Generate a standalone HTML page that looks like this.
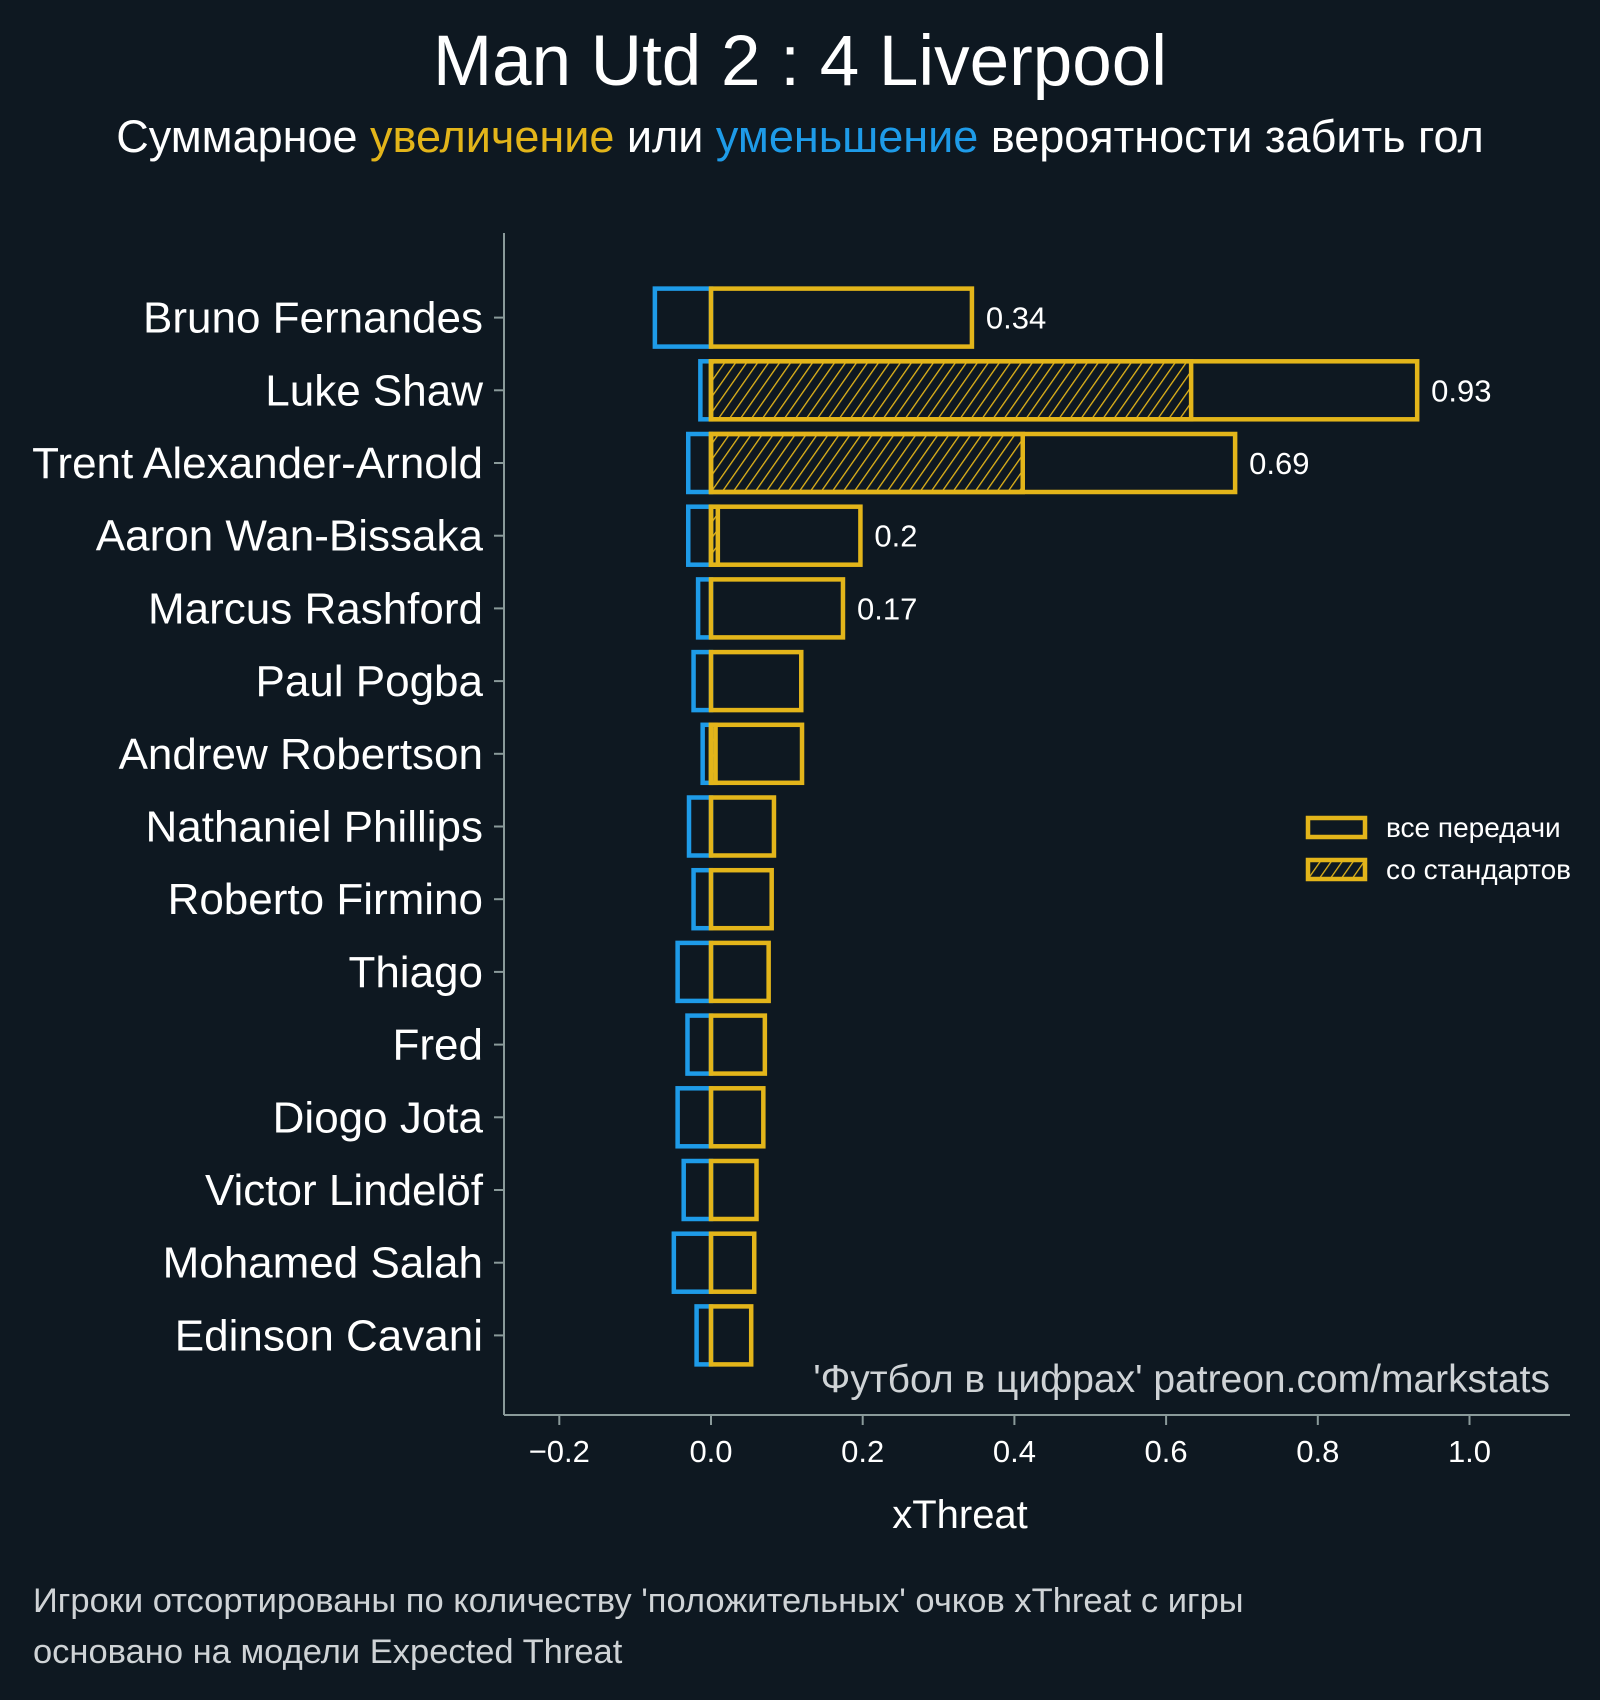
<!DOCTYPE html>
<html><head><meta charset="utf-8">
<style>
html,body{margin:0;padding:0;background:#0e1821;}
svg{display:block;font-family:"Liberation Sans","DejaVu Sans",sans-serif;}
</style></head>
<body>
<svg id="chart" width="1600" height="1700" viewBox="0 0 1600 1700" xmlns="http://www.w3.org/2000/svg">
<defs>
<pattern id="hatch" patternUnits="userSpaceOnUse" width="9" height="9" patternTransform="rotate(35)">
<line x1="0" y1="0" x2="0" y2="9" stroke="#e3b51a" stroke-width="2.6"/>
</pattern>
</defs>
<rect x="0" y="0" width="1600" height="1700" fill="#0e1821"/>
<text x="800" y="85" text-anchor="middle" fill="#ffffff" font-size="71">Man Utd 2 : 4 Liverpool</text>
<text x="800" y="152" text-anchor="middle" fill="#ffffff" font-size="45">Суммарное <tspan fill="#e3b51a">увеличение</tspan> или <tspan fill="#1e9be8">уменьшение</tspan> вероятности забить гол</text>
<g id="plot"></g>
<line x1="504" y1="233" x2="504" y2="1415" stroke="#8a9a9a" stroke-width="2"/>
<line x1="504" y1="1415" x2="1570" y2="1415" stroke="#8a9a9a" stroke-width="2"/>
<text x="960" y="1528" text-anchor="middle" fill="#ffffff" font-size="40">xThreat</text>
<text x="1550" y="1392" text-anchor="end" fill="#cfd3d6" font-size="39">'Футбол в цифрах' patreon.com/markstats</text>
<text x="33" y="1612" fill="#cfd3d6" font-size="34.5">Игроки отсортированы по количеству 'положительных' очков xThreat с игры</text>
<text x="33" y="1663" fill="#cfd3d6" font-size="34.5">основано на модели Expected Threat</text>
<g>
<rect x="1308" y="818" width="57" height="19" fill="none" stroke="#e3b51a" stroke-width="4.5"/>
<text x="1386" y="837" fill="#ffffff" font-size="28">все передачи</text>
<rect x="1308" y="860" width="57" height="19" fill="url(#hatch)" stroke="#e3b51a" stroke-width="4.5"/>
<text x="1386" y="879" fill="#ffffff" font-size="28">со стандартов</text>
</g>
</svg>
<script>
const players = ["Bruno Fernandes","Luke Shaw","Trent Alexander-Arnold","Aaron Wan-Bissaka","Marcus Rashford","Paul Pogba","Andrew Robertson","Nathaniel Phillips","Roberto Firmino","Thiago","Fred","Diogo Jota","Victor Lindelöf","Mohamed Salah","Edinson Cavani"];
const positiveValues = [0.344,0.931,0.691,0.197,0.174,0.119,0.120,0.083,0.080,0.076,0.071,0.069,0.060,0.057,0.053];
const negativeValues = [-0.074,-0.014,-0.030,-0.030,-0.017,-0.023,-0.011,-0.029,-0.023,-0.044,-0.031,-0.044,-0.036,-0.049,-0.019];
const setPieceValues = [0,0.633,0.411,0.009,0,0,0.006,0,0,0,0,0,0,0,0];
const valueLabels = ["0.34","0.93","0.69","0.2","0.17","","","","","","","","","",""];
const xTicks = [-0.2,0,0.2,0.4,0.6,0.8,1.0];
const xTickLabels = ["\u22120.2","0.0","0.2","0.4","0.6","0.8","1.0"];

const NS = "http://www.w3.org/2000/svg";
const X0 = 711, PXU = 758.5;
const xScale = v => X0 + v * PXU;
const ROW0 = 317.6, STEP = 72.7, BARH = 58;
const yScale = i => ROW0 + i * STEP;
const plot = document.getElementById('plot');
const YEL = "#e3b51a", BLU = "#1e9be8";
const AXY = 1415;

function mk(tag, attrs, parent) {
  const el = document.createElementNS(NS, tag);
  for (const k in attrs) el.setAttribute(k, attrs[k]);
  parent.appendChild(el);
  return el;
}

players.forEach((p, i) => {
  const cy = yScale(i), top = cy - BARH / 2;
  const nb = mk('rect', {x: xScale(negativeValues[i]), y: top, width: xScale(0) - xScale(negativeValues[i]), height: BARH, fill: 'none', stroke: BLU, 'stroke-width': 4.5}, plot);
  
  
  if (setPieceValues[i] > 0) {
    const sb = mk('rect', {x: xScale(0), y: top, width: xScale(setPieceValues[i]) - xScale(0), height: BARH, fill: 'url(#hatch)', stroke: YEL, 'stroke-width': 4.5}, plot);
    
    
  }
  const pb = mk('rect', {x: xScale(0), y: top, width: xScale(positiveValues[i]) - xScale(0), height: BARH, fill: 'none', stroke: YEL, 'stroke-width': 4.5}, plot);
  
  
  if (valueLabels[i]) {
    const vl = mk('text', {x: xScale(positiveValues[i]) + 14, y: cy + 11, fill: '#ffffff', 'font-size': 31}, plot);
    vl.textContent = valueLabels[i];
    
    
  }
  const tk = mk('line', {x1: 494, x2: 504, y1: cy, y2: cy, stroke: '#8a9a9a', 'stroke-width': 2}, plot);
  
  
  const lb = mk('text', {x: 483, y: cy + 15, 'text-anchor': 'end', fill: '#ffffff', 'font-size': 44}, plot);
  lb.textContent = p;
  
  
});

xTicks.forEach((t, i) => {
  const x = xScale(t);
  const tk = mk('line', {x1: x, x2: x, y1: AXY, y2: AXY + 10, stroke: '#8a9a9a', 'stroke-width': 2}, plot);
  
  
  const lb = mk('text', {x: x, y: AXY + 47, 'text-anchor': 'middle', fill: '#ffffff', 'font-size': 31}, plot);
  lb.textContent = xTickLabels[i];
  
  
});
</script>
</body></html>
